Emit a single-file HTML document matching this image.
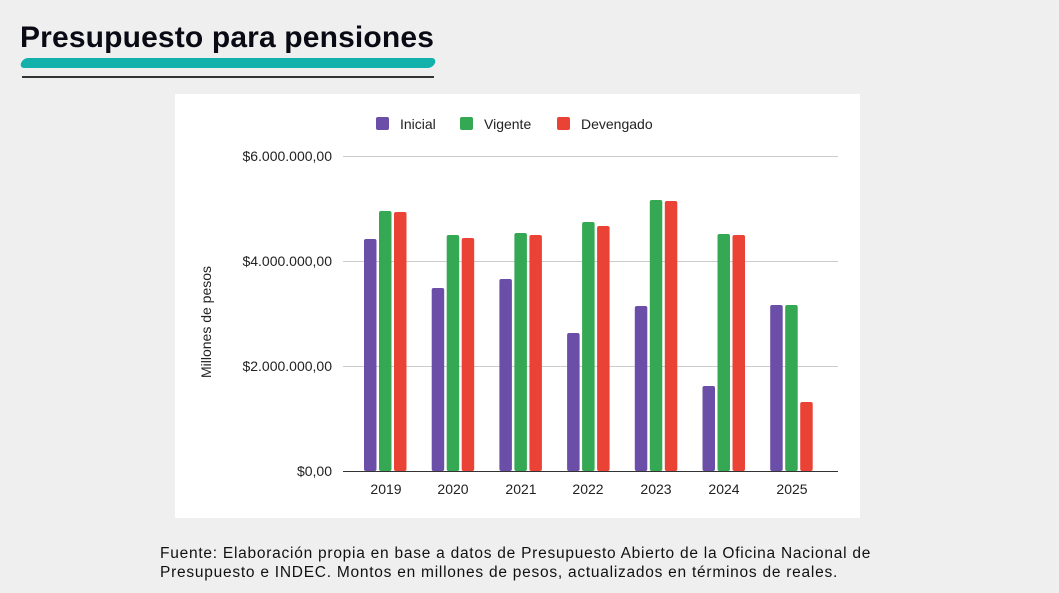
<!DOCTYPE html>
<html><head><meta charset="utf-8"><style>
body{margin:0;width:1059px;height:593px;background:#efefef;position:relative;overflow:hidden;font-family:"Liberation Sans",sans-serif}
.t{position:absolute;left:20px;top:21px;font-size:30px;font-weight:bold;color:#0a0a14;letter-spacing:0.15px}
.u{position:absolute;left:21px;top:58px;width:414px;height:10px;background:#13b1ac;border-radius:6px;transform:skewX(-20deg)}
.l{position:absolute;left:22px;top:76px;width:412px;height:2px;background:#333}
.c{position:absolute;left:175px;top:94px;width:685px;height:424px;background:#fff}
.f{position:absolute;left:160px;top:544px;font-size:15.5px;line-height:19px;color:#111;letter-spacing:0.75px;white-space:nowrap}
</style></head><body>
<div class="t">Presupuesto para pensiones</div>
<div class="u"></div><div class="l"></div>
<div class="c"></div>
<svg width="1059" height="593" style="position:absolute;left:0;top:0" font-family="Liberation Sans, sans-serif">
<g stroke="#ccc" stroke-width="1"><line x1="343" x2="838" y1="156.5" y2="156.5"/><line x1="343" x2="838" y1="261.5" y2="261.5"/><line x1="343" x2="838" y1="366.5" y2="366.5"/></g>
<line x1="343" x2="838" y1="471.5" y2="471.5" stroke="#333"/>
<g font-size="14" fill="#222" text-anchor="end"><text x="332" y="161">$6.000.000,00</text><text x="332" y="266">$4.000.000,00</text><text x="332" y="371">$2.000.000,00</text><text x="332" y="476">$0,00</text></g>
<text transform="translate(211,322) rotate(-90)" font-size="14" fill="#222" text-anchor="middle">Millones de pesos</text>
<g font-size="14" fill="#222" text-anchor="middle">
<text x="386" y="494">2019</text><text x="453" y="494">2020</text><text x="521" y="494">2021</text><text x="588" y="494">2022</text><text x="656" y="494">2023</text><text x="724" y="494">2024</text><text x="792" y="494">2025</text></g>
<g font-size="14" fill="#222"><rect x="376" y="117" width="13" height="13" rx="2" fill="#6a4ea7"/><text x="400" y="129">Inicial</text>
<rect x="460" y="117" width="13" height="13" rx="2" fill="#34a853"/><text x="484" y="129">Vigente</text>
<rect x="557" y="117" width="13" height="13" rx="2" fill="#ea4335"/><text x="581" y="129">Devengado</text></g>
<g id="b"></g>
</svg>
<script>
var tops=[[239,211,212],[288,235,238],[279,233,235],[333,222,226],[306,200,201],[386,234,235],[305,305,402]];
var cols=["#6a4ea7","#34a853","#ea4335"],s="";
tops.forEach(function(t,i){var cx=386+i*67.7;t.forEach(function(y,j){var x=cx-22+j*15;s+='<rect x="'+x+'" y="'+y+'" width="12.5" height="'+(471-y)+'" rx="2" fill="'+cols[j]+'"/>';});});
document.getElementById("b").innerHTML=s;
</script>
<div class="f">Fuente: Elaboración propia en base a datos de Presupuesto Abierto de la Oficina Nacional de<br>Presupuesto e INDEC. Montos en millones de pesos, actualizados en términos de reales.</div>
</body></html>
